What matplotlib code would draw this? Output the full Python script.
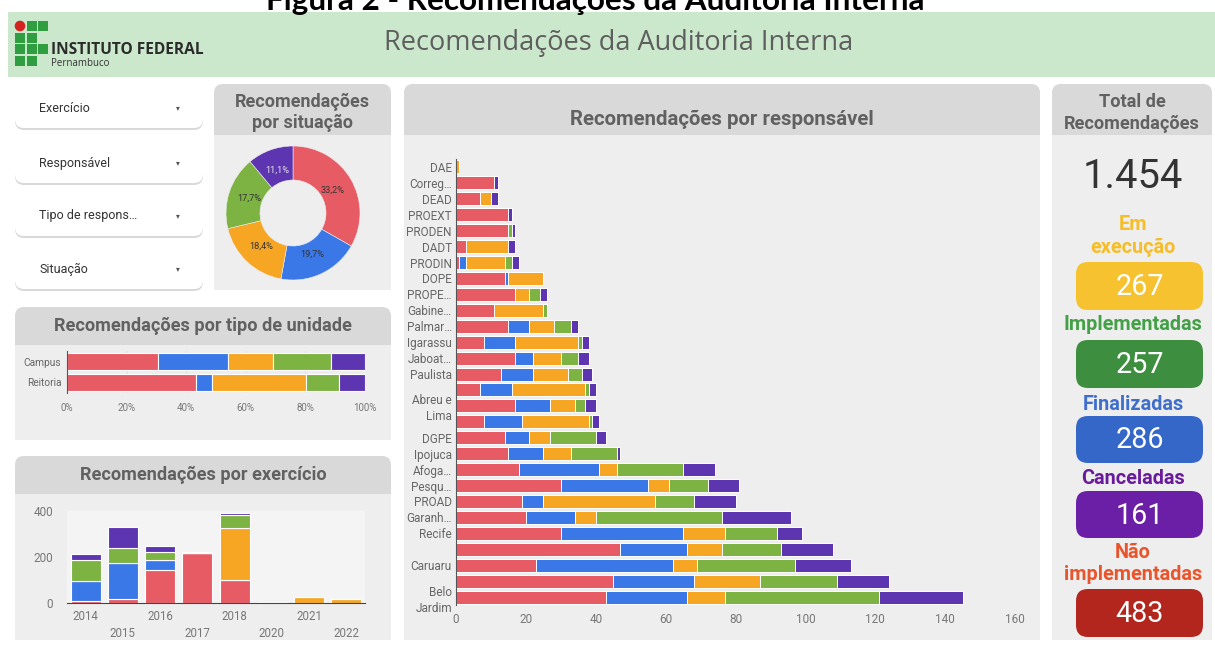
import matplotlib
matplotlib.use('Agg')
import matplotlib.pyplot as plt
from matplotlib.patches import FancyBboxPatch, Rectangle, Circle
import numpy as np

plt.rcParams['font.family'] = ['Roboto', 'DejaVu Sans']

# ---------------- data ----------------
responsaveis = ["DAE", "Correg…", "DEAD", "PROEXT", "PRODEN", "DADT", "PRODIN", "DOPE",
                "PROPE…", "Gabine…", "Palmar…", "Igarassu", "Jaboat…", "Paulista", "",
                "Abreu e\nLima", "", "DGPE", "Ipojuca", "Afoga…", "Pesqu…", "PROAD",
                "Garanh…", "Recife", "", "Caruaru", "", "Belo\nJardim"]
nao_implementadas = [0, 11, 7, 15, 15, 3, 1, 14, 17, 11, 15, 8, 17, 13, 7, 17, 8, 14, 15, 18, 30, 19, 20, 30, 47, 23, 45, 43]
finalizadas = [0, 0, 0, 0, 0, 0, 2, 1, 0, 0, 6, 9, 5, 9, 9, 10, 11, 7, 10, 23, 25, 6, 14, 35, 19, 39, 23, 23]
em_execucao = [1, 0, 3, 0, 0, 12, 11, 10, 4, 14, 7, 18, 8, 10, 21, 7, 19, 6, 8, 5, 6, 32, 6, 12, 10, 7, 19, 11]
implementadas = [0, 0, 0, 0, 1, 0, 2, 0, 3, 1, 5, 1, 5, 4, 1, 3, 1, 13, 13, 19, 11, 11, 36, 15, 17, 28, 22, 44]
canceladas = [0, 1, 2, 1, 1, 2, 2, 0, 2, 0, 2, 2, 3, 3, 2, 3, 2, 3, 1, 9, 9, 12, 20, 7, 15, 16, 15, 24]

exercicios = ["2014", "2015", "2016", "2017", "2018", "2020", "2021", "2022"]
ex_nao_impl = [8, 18, 142, 216, 99, 0, 0, 0]
ex_finalizadas = [86, 156, 44, 0, 0, 0, 0, 0]
ex_em_exec = [0, 0, 0, 0, 226, 0, 25, 16]
ex_implementadas = [92, 66, 35, 0, 56, 5, 3, 0]
ex_canceladas = [25, 90, 29, 6, 11, 0, 0, 0]

tipos_unidade = ["Campus", "Reitoria"]
tipo_nao_impl = [30.5, 43.2]
tipo_finalizadas = [23.5, 5.5]
tipo_em_exec = [15.0, 31.5]
tipo_implementadas = [19.5, 11.0]
tipo_canceladas = [11.5, 8.8]

situacoes = ["Não implementadas", "Finalizadas", "Em execução", "Implementadas", "Canceladas"]
situacao_totais = [483, 286, 267, 257, 161]

filtros = ["Exercício", "Responsável", "Tipo de respons…", "Situação"]

kpi_labels = ["Em\nexecução", "Implementadas", "Finalizadas", "Canceladas", "Não\nimplementadas"]
kpi_values = [267, 257, 286, 161, 483]

# ---------------- style ----------------
C_RED, C_BLUE, C_ORANGE, C_GREEN, C_PURPLE = '#E75C64', '#3B78E7', '#F6A623', '#7CB342', '#5E35B1'
SERIES_COLORS = [C_RED, C_BLUE, C_ORANGE, C_GREEN, C_PURPLE]
HEAD = '#D9D9D9'
BODY = '#EEEEEE'
TITLE_C = '#616161'

W, H = 1215, 647
fig = plt.figure(figsize=(W / 100, H / 100), dpi=100)
fig.patch.set_facecolor('white')
bg = fig.add_axes([0, 0, 1, 1])
bg.set_xlim(0, W)
bg.set_ylim(H, 0)
bg.axis('off')
renderer = fig.canvas.get_renderer()


def ax_at(x0, y0, x1, y1):
    return fig.add_axes([x0 / W, 1 - y1 / H, (x1 - x0) / W, (y1 - y0) / H])


def rbox(x0, y0, x1, y1, color, r=8, z=1):
    p = FancyBboxPatch((x0 + r, y0 + r), x1 - x0 - 2 * r, y1 - y0 - 2 * r,
                       boxstyle=f"round,pad={r}", fc=color, ec='none', zorder=z)
    bg.add_patch(p)


def size_for(s, width, **kw):
    t = bg.text(0, 0, s, fontsize=10, **kw)
    w = t.get_window_extent(renderer).width
    t.remove()
    return 10 * width / w


def panel(x0, y0, x1, y1, yh, title_lines, title_ys, title_width):
    bg.add_patch(Rectangle((x0, y0 + 10), x1 - x0, y1 - y0 - 10, fc=BODY, ec='none', zorder=1))
    rbox(x0, y0, x1, yh, HEAD, r=9, z=2)
    bg.add_patch(Rectangle((x0, yh - 9), x1 - x0, 9, fc=HEAD, ec='none', zorder=2))
    widest = max(title_lines, key=len)
    fs = size_for(widest, title_width, weight='bold')
    for s, yy in zip(title_lines, title_ys):
        bg.text((x0 + x1) / 2, yy, s, ha='center', va='center', fontsize=fs,
                weight='bold', color=TITLE_C, zorder=3)


# ---------------- caption and header ----------------
cap = "Figura 2 - Recomendações da Auditoria Interna"
fs = size_for(cap, 660, family='Lato', weight='bold')
bg.text(595, 10, cap, ha='center', va='baseline', fontsize=fs, family='Lato', weight='bold', color='black')

bg.add_patch(Rectangle((8, 12), W - 8, 65, fc='#CCE8CC', ec='none', zorder=1))
# logo
LG = '#2F9E41'
cells = [(0, 1), (0, 2), (1, 0), (1, 1), (2, 0), (2, 1), (2, 2), (3, 0), (3, 1)]
for r_, c_ in cells:
    bg.add_patch(Rectangle((15 + 11.5 * c_, 21 + 11.5 * r_), 10, 10, fc=LG, ec='none', zorder=2))
bg.add_patch(Circle((20, 26), 5.3, fc='#D3231E', ec='none', zorder=2))
fs = size_for("INSTITUTO FEDERAL", 153, family='Open Sans', weight='bold')
bg.text(51, 50, "INSTITUTO FEDERAL", ha='left', va='center', fontsize=fs, family='Open Sans',
        weight='bold', color='#2b2b2b', zorder=3)
fs = size_for("Pernambuco", 58, family='Open Sans')
bg.text(51, 64, "Pernambuco", ha='left', va='center', fontsize=fs, family='Open Sans', color='#333', zorder=3)
ht = "Recomendações da Auditoria Interna"
fs = size_for(ht, 468, family='Open Sans')
bg.text(619, 43, ht, ha='center', va='center', fontsize=fs, family='Open Sans', color='#5e5e5e', zorder=3)

# ---------------- filters ----------------
for lab, y0 in zip(filtros, [88, 143, 196, 249]):
    rbox(15, y0 + 2, 203, y0 + 42, '#D9D9D9', r=9, z=1)
    rbox(15, y0, 203, y0 + 40, 'white', r=9, z=2)
    bg.text(39, y0 + 20, lab, ha='left', va='center', fontsize=9, color='#333', zorder=3)
    bg.text(178, y0 + 20, '▾', ha='center', va='center', fontsize=5.5, color='#555',
            family='DejaVu Sans', zorder=3)

# ---------------- donut panel ----------------
panel(214, 84, 391, 290, 135, ["Recomendações", "por situação"], [102, 123], 135)
axd = ax_at(293 - 70, 213 - 70, 293 + 70, 213 + 70)
wedges, texts, autotexts = axd.pie(
    situacao_totais, colors=SERIES_COLORS, startangle=90, counterclock=False, radius=67 / 70,
    wedgeprops=dict(width=34 / 70, edgecolor='#EEEEEE', linewidth=0.4),
    autopct=lambda p: f'{p:.1f}%'.replace('.', ','), pctdistance=0.68,
    textprops=dict(fontsize=6.6, color='#333'))
autotexts[-1].set_color('#E6E6E6')
axd.set_xlim(-1, 1)
axd.set_ylim(-1, 1)
axd.axis('off')

# ---------------- tipo de unidade ----------------
panel(15, 307, 391, 440, 345, ["Recomendações por tipo de unidade"], [326], 299)
axt = ax_at(67, 351, 365, 393)
axt.set_facecolor('none')
yt = np.arange(len(tipos_unidade))
left = np.zeros(len(tipos_unidade))
for vals, col in zip([tipo_nao_impl, tipo_finalizadas, tipo_em_exec, tipo_implementadas, tipo_canceladas],
                     SERIES_COLORS):
    axt.barh(yt, vals, left=left, height=0.81, color=col, edgecolor='white', linewidth=0.8, zorder=2)
    left += np.array(vals)
axt.set_xlim(0, 100)
axt.set_ylim(1.5, -0.5)
axt.set_yticks(yt)
axt.set_yticklabels(tipos_unidade)
axt.set_xticks(np.arange(0, 101, 20))
axt.set_xticklabels([f'{v}%' for v in range(0, 101, 20)])
axt.grid(axis='x', color='#DDDDDD', linewidth=0.6, zorder=0)
for s in ['top', 'right', 'bottom']:
    axt.spines[s].set_visible(False)
axt.spines['left'].set_color('#555')
axt.tick_params(axis='y', length=0, pad=4, labelsize=7.3, labelcolor='#666')
axt.tick_params(axis='x', length=0, pad=7, labelsize=7, labelcolor='#777')

# ---------------- exercicio ----------------
panel(15, 456, 391, 640, 494, ["Recomendações por exercício"], [475], 246)
axe = ax_at(67, 511, 365, 603)
axe.set_facecolor('#F4F4F4')
xe = np.arange(len(exercicios))
bottom = np.zeros(len(exercicios))
for vals, col in zip([ex_nao_impl, ex_finalizadas, ex_em_exec, ex_implementadas, ex_canceladas], SERIES_COLORS):
    axe.bar(xe, vals, bottom=bottom, width=0.8, color=col, edgecolor='white', linewidth=0.8)
    bottom += np.array(vals)
axe.set_xlim(-0.5, len(exercicios) - 0.5)
axe.set_ylim(0, 400)
axe.set_yticks([0, 200, 400])
axe.set_xticks(xe)
axe.set_xticklabels([e if i % 2 == 0 else '\n' + e for i, e in enumerate(exercicios)])
for lbl in axe.get_xticklabels():
    lbl.set_linespacing(1.45)
for s in ['top', 'right', 'left']:
    axe.spines[s].set_visible(False)
axe.spines['bottom'].set_color('#444')
axe.tick_params(axis='y', length=0, pad=10, labelsize=8.5, labelcolor='#777')
axe.tick_params(axis='x', length=0, pad=5, labelsize=8.3, labelcolor='#777')

# ---------------- responsavel ----------------
panel(404, 84, 1040, 640, 135, ["Recomendações por responsável"], [119], 305)
axr = ax_at(456, 159, 1015, 605)
axr.set_facecolor('none')
yr = np.arange(len(responsaveis))
left = np.zeros(len(responsaveis))
for vals, col in zip([nao_implementadas, finalizadas, em_execucao, implementadas, canceladas], SERIES_COLORS):
    v = np.array(vals)
    axr.barh(yr, v, left=left, height=0.82, color=col, edgecolor='white', linewidth=0.7)
    left += v
axr.set_xlim(0, 160)
axr.set_ylim(len(responsaveis) - 0.5, -0.5)
axr.set_yticks(yr)
axr.set_yticklabels(responsaveis)
for lbl in axr.get_yticklabels():
    lbl.set_linespacing(1.3)
axr.set_xticks(np.arange(0, 161, 20))
for s in ['top', 'right', 'bottom']:
    axr.spines[s].set_visible(False)
axr.spines['left'].set_color('#555')
axr.tick_params(axis='y', length=0, pad=3, labelsize=8.5, labelcolor='#666')
axr.tick_params(axis='x', length=0, pad=6, labelsize=8.5, labelcolor='#777')

# ---------------- totals panel ----------------
panel(1052, 84, 1212, 640, 135, ["Total de", "Recomendações"], [102, 124], 136)
total = sum(situacao_totais)
total_txt = f'{total:,}'.replace(',', '.')
fs = size_for(total_txt, 100)
bg.text(1133, 176, total_txt, ha='center', va='center', fontsize=fs, color='#333', zorder=3)

kpi_label_colors = ['#F5BD2A', '#43A047', '#3F6FCB', '#6A1B9A', '#E8552D']
kpi_box_colors = ['#F7C22F', '#3D8F3F', '#3567C9', '#6A1FA6', '#B3261E']
label_ys = [[225, 247], [325], [404], [478], [552, 574]]
box_ys = [(262, 310), (340, 388), (416, 463), (491, 538), (589, 637)]
fs_lab = size_for("Implementadas", 139, weight='bold')
fs_num = size_for("267", 48)
for lab, val, lc, bc, lys, (b0, b1) in zip(kpi_labels, kpi_values, kpi_label_colors, kpi_box_colors,
                                            label_ys, box_ys):
    for s, yy in zip(lab.split('\n'), lys):
        bg.text(1133, yy, s, ha='center', va='center', fontsize=fs_lab, weight='bold', color=lc, zorder=3)
    rbox(1076, b0, 1203, b1, bc, r=12, z=2)
    bg.text(1139.5, (b0 + b1) / 2 + 1, str(val), ha='center', va='center', fontsize=fs_num,
            color='white', zorder=3)

fig.savefig('out.png', dpi=100)
